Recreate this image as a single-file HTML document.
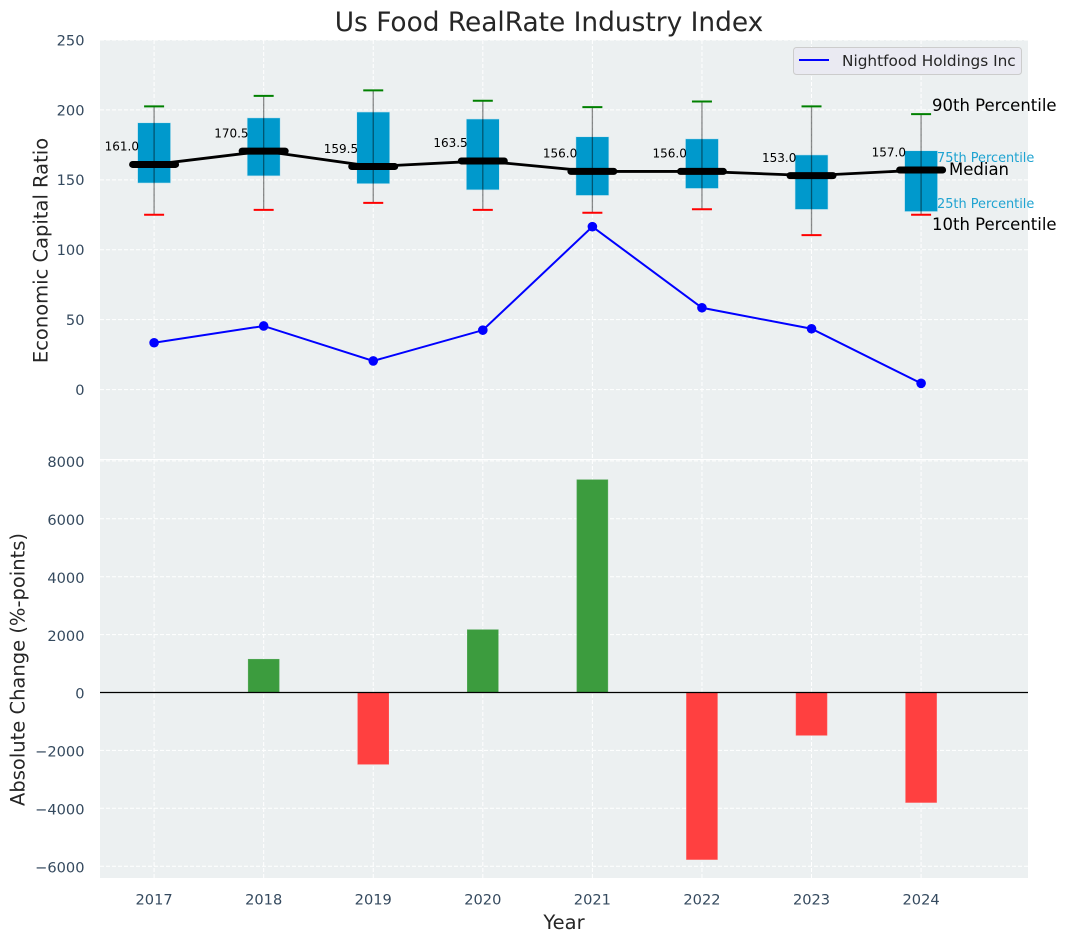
<!DOCTYPE html>
<html>
<head>
<meta charset="utf-8">
<title>Us Food RealRate Industry Index</title>
<style>
html,body{margin:0;padding:0;background:#fff;width:1067px;height:942px;overflow:hidden}
svg{display:block;font-family:"DejaVu Sans","Liberation Sans",sans-serif}
</style>
</head>
<body>
<svg id="chart" width="1067" height="942" viewBox="0 0 1067 942" xmlns="http://www.w3.org/2000/svg">
  <text x="549" y="31" text-anchor="middle" font-size="26.4" fill="#262626">Us Food RealRate Industry Index</text>
  <rect x="100" y="40" width="928" height="419" fill="#ecf0f1"/>
  <rect x="100" y="460" width="928" height="418" fill="#ecf0f1"/>
  <g id="grid"></g>
  <g id="bars"></g>
  <line x1="100" x2="1028" y1="692.5" y2="692.5" stroke="#000" stroke-width="1.2"/>
  <g id="boxes"></g>
  <g id="lines"></g>
  <g id="ticks"></g>
  <text transform="translate(47.5,250.5) rotate(-90)" text-anchor="middle" font-size="19.5" fill="#262626">Economic Capital Ratio</text>
  <text transform="translate(24.5,669.5) rotate(-90)" text-anchor="middle" font-size="19.5" fill="#262626">Absolute Change (%-points)</text>
  <text x="564" y="929" text-anchor="middle" font-size="19.5" fill="#262626">Year</text>
  <g>
    <rect x="793.5" y="47.5" width="228" height="27" rx="3" fill="#eaeaf2" stroke="#cccccc" stroke-width="1"/>
    <line x1="799" x2="829" y1="60" y2="60" stroke="#0000ff" stroke-width="2"/>
    <text x="842" y="66" font-size="15.3" fill="#262626">Nightfood Holdings Inc</text>
  </g>
  <g>
    <text x="932" y="111" font-size="16.5" fill="#000">90th Percentile</text>
    <text x="937" y="162" font-size="12.9" fill="#1fa3d1">75th Percentile</text>
    <text x="949" y="175" font-size="16.5" fill="#000">Median</text>
    <text x="937" y="208" font-size="12.9" fill="#1fa3d1">25th Percentile</text>
    <text x="932" y="230" font-size="16.5" fill="#000">10th Percentile</text>
  </g>
</svg>
<script>
const years = [2017, 2018, 2019, 2020, 2021, 2022, 2023, 2024];
const p90 = [202.5, 210, 214, 206.5, 202, 206, 202.5, 197];
const p75 = [190.8, 194.3, 198.5, 193.5, 180.8, 179.3, 167.8, 170.8];
const medians = [161.0, 170.5, 159.5, 163.5, 156.0, 156.0, 153.0, 157.0];
const p25 = [147.7, 152.8, 147.2, 142.8, 138.8, 143.8, 128.8, 127.3];
const p10 = [125, 128.5, 133.5, 128.5, 126.5, 129, 110.5, 125];
const company = [33.5, 45.5, 20.5, 42.5, 116.5, 58.5, 43.5, 4.5];
const changes = [null, 1150, -2480, 2170, 7350, -5770, -1480, -3800];
const topTicks = [0, 50, 100, 150, 200, 250];
const bottomTicks = [-6000, -4000, -2000, 0, 2000, 4000, 6000, 8000];

const NS = 'http://www.w3.org/2000/svg';
function xScale(year) { return 154.1 + (year - 2017) * 109.57; }
function yTop(v) { return 389.6 - v * 1.3985; }
function yBottom(v) { return 692.5 - v * 0.02895; }
function make(tag, attrs, parent) {
  const el = document.createElementNS(NS, tag);
  for (const k in attrs) el.setAttribute(k, attrs[k]);
  parent.appendChild(el);
  return el;
}
const grid = document.getElementById('grid');
const bars = document.getElementById('bars');
const boxes = document.getElementById('boxes');
const lines = document.getElementById('lines');
const ticks = document.getElementById('ticks');
const gridStyle = { stroke: '#ffffff', 'stroke-width': 1, 'stroke-dasharray': '4 2' };

years.forEach(function (yr) {
  const x = xScale(yr);
  [[40, 459], [460, 878]].forEach(function (r) {
    const g = make('line', Object.assign({ x1: x, x2: x, y1: r[0], y2: r[1] }, gridStyle), grid);
    
    
  });
  const t = make('text', { x: x, y: 904.5, 'text-anchor': 'middle', 'font-size': 14.6, fill: '#34495e' }, ticks);
  t.textContent = String(yr);
  
  
});

topTicks.forEach(function (v) {
  const y = yTop(v);
  const g = make('line', Object.assign({ x1: 100, x2: 1028, y1: y, y2: y }, gridStyle), grid);
  
  
  const t = make('text', { x: 84.5, y: y + 5.4, 'text-anchor': 'end', 'font-size': 14.6, fill: '#34495e' }, ticks);
  t.textContent = String(v);
  
  
});

bottomTicks.forEach(function (v) {
  const y = yBottom(v);
  const g = make('line', Object.assign({ x1: 100, x2: 1028, y1: y, y2: y }, gridStyle), grid);
  
  
  const t = make('text', { x: 84.5, y: y + 6.2, 'text-anchor': 'end', 'font-size': 14.6, fill: '#34495e' }, ticks);
  t.textContent = String(v).replace('-', '\u2212');
  
  
});

changes.forEach(function (v, i) {
  if (v === null) return;
  const x = xScale(years[i]);
  const y0 = yBottom(0), y1 = yBottom(v);
  const r = make('rect', {
    x: x - 15.5, width: 31, y: Math.min(y0, y1), height: Math.abs(y1 - y0),
    fill: v >= 0 ? '#3c9c3e' : '#ff4040', stroke: v >= 0 ? '#56a95a' : '#ff5a5a', 'stroke-width': 0.5
  }, bars);
  
  
});

years.forEach(function (yr, i) {
  const x = xScale(yr);
  const box = make('rect', {
    x: x - 16.5, width: 33, y: yTop(p75[i]), height: yTop(p25[i]) - yTop(p75[i]),
    fill: '#0099cc', stroke: '#c8e6f0', 'stroke-width': 0.6
  }, boxes);
  
  
  const whisker = make('line', { x1: x, x2: x, y1: yTop(p90[i]), y2: yTop(p10[i]), stroke: '#000', 'stroke-opacity': 0.45, 'stroke-width': 1.3 }, boxes);
  
  
  const capHigh = make('line', { x1: x - 10, x2: x + 10, y1: yTop(p90[i]), y2: yTop(p90[i]), stroke: '#008000', 'stroke-width': 2 }, boxes);
  
  
  const capLow = make('line', { x1: x - 10, x2: x + 10, y1: yTop(p10[i]), y2: yTop(p10[i]), stroke: '#ff0000', 'stroke-width': 2 }, boxes);
  
  
});

const medianPts = years.map(function (yr, i) { return xScale(yr) + ',' + yTop(medians[i]); }).join(' ');
const medLine = make('polyline', { points: medianPts, fill: 'none', stroke: '#000', 'stroke-width': 2.8 }, lines);



years.forEach(function (yr, i) {
  const x = xScale(yr), y = yTop(medians[i]);
  const m = make('line', { x1: x - 21.5, x2: x + 21.5, y1: y, y2: y, stroke: '#000', 'stroke-width': 7, 'stroke-linecap': 'round' }, lines);
  
  
  const t = make('text', { x: x - 32.3, y: y - 13.7, 'text-anchor': 'middle', 'font-size': 12, fill: '#000' }, lines);
  t.textContent = medians[i].toFixed(1);
  
  
});

const companyPts = years.map(function (yr, i) { return xScale(yr) + ',' + yTop(company[i]); }).join(' ');
const compLine = make('polyline', { points: companyPts, fill: 'none', stroke: '#0000ff', 'stroke-width': 2 }, lines);



years.forEach(function (yr, i) {
  const p = make('circle', { cx: xScale(yr), cy: yTop(company[i]), r: 4.8, fill: '#0000ff' }, lines);
  
  
});
</script>
</body>
</html>
